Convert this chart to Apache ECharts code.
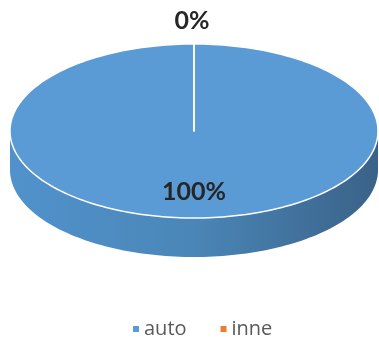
<!DOCTYPE html>
<html>
<head>
<meta charset="utf-8">
<script src="https://cdn.jsdelivr.net/npm/echarts@6/dist/echarts.min.js"></script>
<style>
  html, body { margin: 0; padding: 0; background: #ffffff; }
  #chart { width: 379px; height: 343px; }
</style>
</head>
<body>
<div id="chart"></div>
<script>
// Shares per category (percent)
const categories = ['auto', 'inne'];
const values = [100, 0];

// Palette: top face, and side wall gradient (light -> dark)
const topColors = ['#5b9bd5', '#ed7d31'];
const sideStops = [
  ['#5192cc', '#4a86b7', '#3a6288'],
  ['#e0742c', '#c96824', '#8f4a18']
];

// Ellipse geometry of the tilted disc
const CX = 194, CY = 131, RX = 184, RY = 87, DEPTH = 39;

const total = values.reduce((a, b) => a + b, 0);
const angles = [];
let acc = 0;
values.forEach(v => {
  const s = -90 + 360 * acc / total;
  acc += v;
  const e = -90 + 360 * acc / total;
  angles.push([s, e]);
});

function pt(deg, dy) {
  const r = deg * Math.PI / 180;
  return [CX + RX * Math.cos(r), CY + (dy || 0) + RY * Math.sin(r)];
}

function arcPoints(a0, a1, dy) {
  const pts = [];
  const n = Math.max(2, Math.ceil(Math.abs(a1 - a0) / 1.5));
  for (let k = 0; k <= n; k++) pts.push(pt(a0 + (a1 - a0) * k / n, dy));
  return pts;
}

function renderSlice(params, api) {
  const i = params.seriesIndex;
  const [s, e] = angles[i];
  const children = [];

  // visible front wall: part of the slice that lies in 0..180 deg (screen)
  for (let k = -1; k <= 1; k++) {
    const lo = Math.max(s, 360 * k), hi = Math.min(e, 360 * k + 180);
    if (hi > lo) {
      const topArc = arcPoints(lo, hi, 0);
      const botArc = arcPoints(hi, lo, DEPTH);
      const st = sideStops[i];
      children.push({
        type: 'polygon',
        z2: 1,
        shape: { points: topArc.concat(botArc) },
        style: {
          fill: {
            type: 'linear', x: 0, y: 0, x2: 1, y2: 0,
            colorStops: [
              { offset: 0, color: st[0] },
              { offset: 0.5, color: st[1] },
              { offset: 1, color: st[2] }
            ]
          }
        }
      });
    }
  }

  // top face sector
  const face = [[CX, CY]].concat(arcPoints(s, e, 0));
  children.push({
    type: 'polygon',
    z2: 10,
    shape: { points: face },
    style: { fill: topColors[i], stroke: '#ffffff', lineWidth: 1.5, lineJoin: 'round' }
  });

  // percentage label
  const mid = (s + e) / 2;
  const pct = Math.round(100 * values[i] / total) + '%';
  let lx, ly;
  const r = mid * Math.PI / 180;
  if (values[i] / total > 0.05) {
    lx = CX + 0.7 * RX * Math.cos(r);
    ly = CY + 0.7 * RY * Math.sin(r);
  } else {
    lx = CX + RX * Math.cos(r) - 2;
    ly = CY + RY * Math.sin(r) - 23;
  }
  children.push({
    type: 'text',
    z2: 20,
    style: {
      text: pct, x: lx, y: ly,
      align: 'center', verticalAlign: 'middle',
      fontFamily: 'Lato', fontWeight: 'bold', fontSize: 25,
      fill: '#262626'
    }
  });

  return { type: 'group', children };
}

const chart = echarts.init(document.getElementById('chart'), null, { renderer: 'canvas' });
chart.setOption({
  animation: false,
  color: topColors,
  legend: {
    data: categories,
    left: 128,
    top: 314,
    icon: 'rect',
    itemWidth: 6,
    itemHeight: 6,
    itemGap: 34,
    textStyle: { color: '#595959', fontSize: 20, fontFamily: 'Open Sans' }
  },
  series: categories.map((name, i) => ({
    type: 'custom',
    name,
    coordinateSystem: 'none',
    data: [[values[i]]],
    renderItem: renderSlice
  }))
});
</script>
</body>
</html>
